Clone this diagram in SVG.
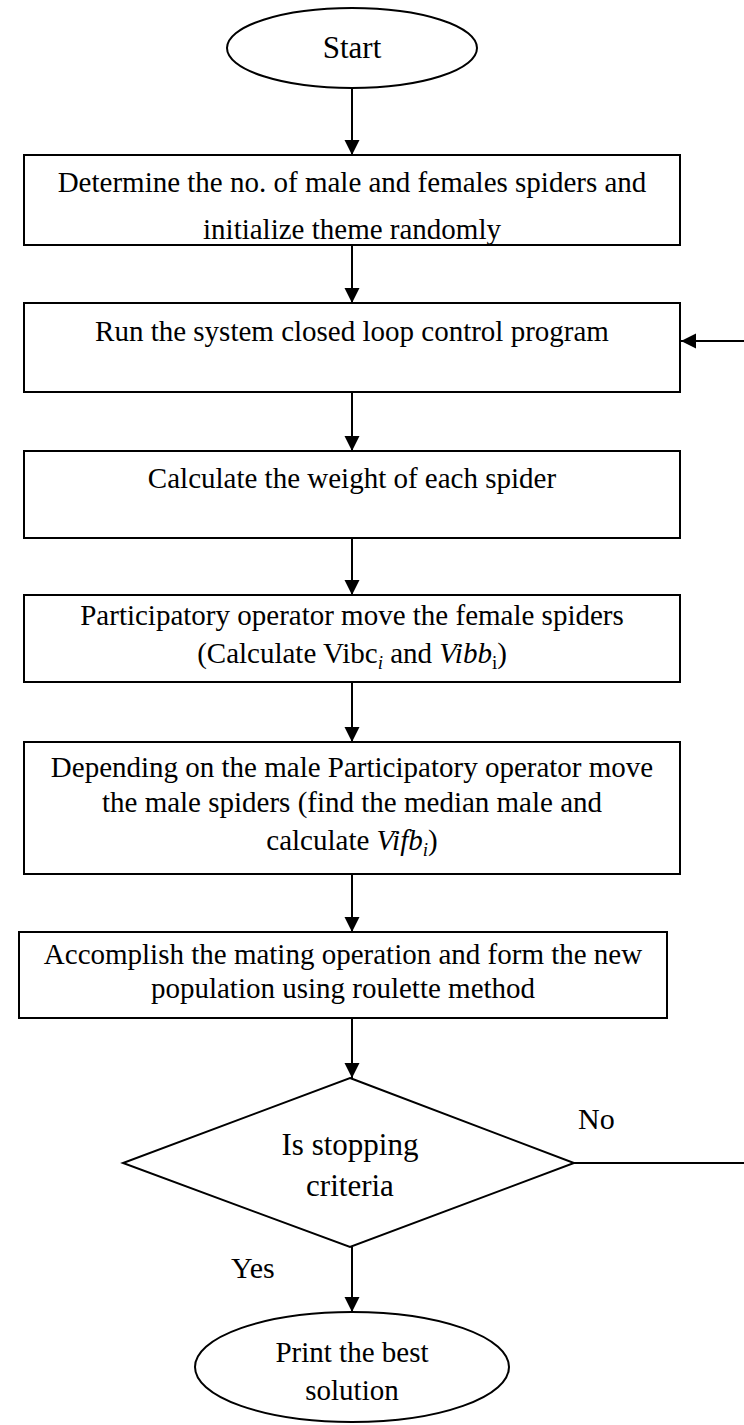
<svg xmlns="http://www.w3.org/2000/svg" width="744" height="1425" viewBox="0 0 744 1425">
<style>
.shape{fill:#fff;stroke:#000;stroke-width:2}
.t{font-family:"Liberation Serif","Times New Roman",serif;font-size:29px;fill:#000;text-anchor:middle}
.big{font-size:31px}
.lbl{font-family:"Liberation Serif","Times New Roman",serif;font-size:30px;fill:#000}
.it{font-style:italic}
.conn{stroke:#000;stroke-width:2;fill:none}
</style>
<defs>
<marker id="ah" markerUnits="userSpaceOnUse" markerWidth="16" markerHeight="16" refX="15" refY="7.5" orient="auto">
<path d="M0,0 L15,7.5 L0,15 z" fill="#000"/>
</marker>
</defs>
<g id="connectors">
<line class="conn" x1="352" y1="89" x2="352" y2="155" marker-end="url(#ah)"/>
<line class="conn" x1="352" y1="245" x2="352" y2="303" marker-end="url(#ah)"/>
<line class="conn" x1="352" y1="392" x2="352" y2="451" marker-end="url(#ah)"/>
<line class="conn" x1="352" y1="538" x2="352" y2="595" marker-end="url(#ah)"/>
<line class="conn" x1="352" y1="682" x2="352" y2="742" marker-end="url(#ah)"/>
<line class="conn" x1="352" y1="874" x2="352" y2="932" marker-end="url(#ah)"/>
<line class="conn" x1="352" y1="1018" x2="352" y2="1078" marker-end="url(#ah)"/>
<line class="conn" x1="352" y1="1247" x2="352" y2="1312" marker-end="url(#ah)"/>
<line class="conn" x1="574" y1="1163" x2="744" y2="1163"/>
<line class="conn" x1="744" y1="341" x2="681" y2="341" marker-end="url(#ah)"/>
<text class="lbl" x="578" y="1129">No</text>
<text class="lbl" x="231" y="1278">Yes</text>
</g>
<g id="start">
<ellipse class="shape" cx="352" cy="48" rx="125" ry="40"/>
<text class="t big" x="352" y="58">Start</text>
</g>
<g id="init">
<rect class="shape" x="24" y="155" width="656" height="90"/>
<text class="t" x="352" y="192">Determine the no. of male and females spiders and</text>
<text class="t" x="352" y="239">initialize theme randomly</text>
</g>
<g id="run">
<rect class="shape" x="24" y="303" width="656" height="89"/>
<text class="t" x="352" y="341">Run the system closed loop control program</text>
</g>
<g id="weight">
<rect class="shape" x="24" y="451" width="656" height="87"/>
<text class="t" x="352" y="488">Calculate the weight of each spider</text>
</g>
<g id="female">
<rect class="shape" x="24" y="595" width="656" height="87"/>
<text class="t" x="352" y="625">Participatory operator move the female spiders</text>
<text class="t" x="352" y="663">(Calculate Vibc<tspan class="it" font-size="19" dy="6">i</tspan><tspan dy="-6"> and </tspan><tspan class="it">Vibb</tspan><tspan font-size="19" dy="6">i</tspan><tspan dy="-6">)</tspan></text>
</g>
<g id="male">
<rect class="shape" x="24" y="742" width="656" height="132"/>
<text class="t" x="352" y="777">Depending on the male Participatory operator move</text>
<text class="t" x="352" y="812">the male spiders (find the median male and</text>
<text class="t" x="352" y="850">calculate <tspan class="it">Vifb</tspan><tspan class="it" font-size="19" dy="6">i</tspan><tspan dy="-6">)</tspan></text>
</g>
<g id="mating">
<rect class="shape" x="19" y="932" width="648" height="86"/>
<text class="t" x="343" y="964">Accomplish the mating operation and form the new</text>
<text class="t" x="343" y="998">population using roulette method</text>
</g>
<g id="decision">
<polygon class="shape" points="350,1078 574,1163 350,1247 123,1163"/>
<text class="t big" x="350" y="1155">Is stopping</text>
<text class="t big" x="350" y="1196">criteria</text>
</g>
<g id="end">
<ellipse class="shape" cx="352" cy="1367" rx="157" ry="55"/>
<text class="t" x="352" y="1362">Print the best</text>
<text class="t" x="352" y="1400">solution</text>
</g>
</svg>
